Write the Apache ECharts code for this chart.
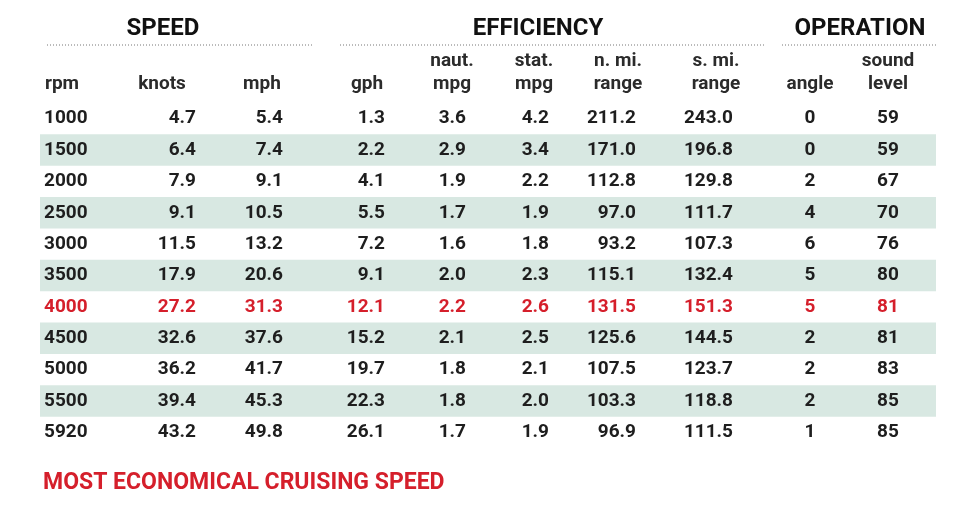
<!DOCTYPE html>
<html><head><meta charset="utf-8">
<script src="https://cdn.jsdelivr.net/npm/echarts@6/dist/echarts.min.js"></script>
<style>html,body{margin:0;background:#fff}#c{width:964px;height:514px}</style>
</head><body><div id="c"></div>
<script>
var rpm = ['1000','1500','2000','2500','3000','3500','4000','4500','5000','5500','5920'];
var knots = ['4.7','6.4','7.9','9.1','11.5','17.9','27.2','32.6','36.2','39.4','43.2'];
var mph = ['5.4','7.4','9.1','10.5','13.2','20.6','31.3','37.6','41.7','45.3','49.8'];
var gph = ['1.3','2.2','4.1','5.5','7.2','9.1','12.1','15.2','19.7','22.3','26.1'];
var nautMpg = ['3.6','2.9','1.9','1.7','1.6','2.0','2.2','2.1','1.8','1.8','1.7'];
var statMpg = ['4.2','3.4','2.2','1.9','1.8','2.3','2.6','2.5','2.1','2.0','1.9'];
var nmiRange = ['211.2','171.0','112.8','97.0','93.2','115.1','131.5','125.6','107.5','103.3','96.9'];
var smiRange = ['243.0','196.8','129.8','111.7','107.3','132.4','151.3','144.5','123.7','118.8','111.5'];
var angle = ['0','0','2','4','6','5','5','2','2','2','1'];
var sound = ['59','59','67','70','76','80','81','81','83','85','85'];
var headers = [['','rpm'],['','knots'],['','mph'],['','gph'],['naut.','mpg'],['stat.','mpg'],['n. mi.','range'],['s. mi.','range'],['','angle'],['sound','level']];
var highlightRow = 6;

var columns = [rpm, knots, mph, gph, nautMpg, statMpg, nmiRange, smiRange, angle, sound];
// x anchor and alignment for each column
var colX = [44, 196, 283, 385, 466, 549, 636, 733, 810, 888];
var colAlign = ['left','right','right','right','right','right','right','right','center','center'];
var headX = [62, 162, 262, 367, 452, 534, 618, 716, 810, 888];

var FONT = 'Roboto, "Liberation Sans", sans-serif';
var DARK = '#1e1e1e', RED = '#d51f2b';

var stripeRows = [];
rpm.forEach(function (r, i) { if (i % 2 === 1) stripeRows.push([0, i]); });

var series = [{
  type: 'custom',
  silent: true,
  data: stripeRows,
  encode: { x: 0, y: 1 },
  renderItem: function (params, api) {
    var i = api.value(1);
    var h = api.size([0, 1])[1];
    var a = api.coord([40, i]), b = api.coord([936, i]);
    return { type: 'rect', shape: { x: a[0], y: a[1] - h / 2, width: b[0] - a[0], height: h }, style: { fill: '#d8e8e2' } };
  }
}];
columns.forEach(function (col, c) {
  series.push({
    type: 'scatter',
    symbolSize: 0,
    silent: true,
    itemStyle: { opacity: 1 },
    data: col.map(function (v, i) {
      return { value: [colX[c], i], label: { formatter: v, color: i === highlightRow ? RED : DARK } };
    }),
    label: { show: true, position: 'inside', align: colAlign[c], verticalAlign: 'middle', fontFamily: FONT, fontWeight: 'bold', fontSize: 19 }
  });
});

var graphic = [];
function groupHead(text, cx, x1, x2) {
  graphic.push({ type: 'text', x: cx, y: 17, style: { text: text, fontFamily: FONT, fontWeight: 'bold', fontSize: 24, fill: '#111', align: 'center' } });
  graphic.push({ type: 'line', shape: { x1: x1, y1: 45, x2: x2, y2: 45 }, style: { stroke: '#777', lineWidth: 1, lineDash: [1, 2] } });
}
groupHead('SPEED', 163, 47, 314);
groupHead('EFFICIENCY', 538, 340, 766);
groupHead('OPERATION', 860, 782, 938);
headers.forEach(function (h, c) {
  graphic.push({ type: 'text', x: headX[c], y: 50, style: { text: h[0] + '\n' + h[1], fontFamily: FONT, fontWeight: 'bold', fontSize: 19, lineHeight: 23, fill: '#2b2b2b', align: 'center' } });
});
graphic.push({ type: 'text', x: 43, y: 472, style: { text: 'MOST ECONOMICAL CRUISING SPEED', fontFamily: FONT, fontWeight: 'bold', fontSize: 23, fill: RED } });

var chart = echarts.init(document.getElementById('c'));
chart.setOption({
  animation: false,
  grid: { left: 0, right: 0, top: 103, bottom: 66 },
  xAxis: { type: 'value', min: 0, max: 964, show: false },
  yAxis: { type: 'category', data: rpm, inverse: true, show: false },
  graphic: graphic,
  series: series
});
</script></body></html>
